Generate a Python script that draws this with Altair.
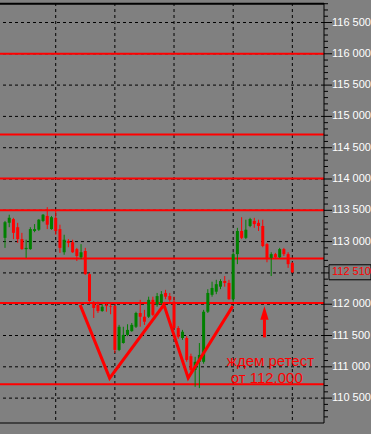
import altair as alt
import pandas as pd

# ---- candle data (bar index, prices) ----
idx = list(range(69))
opens = [113.06, 113.30, 113.36, 113.23, 113.04, 112.88, 112.88, 113.17, 113.19, 113.33,
         113.41, 113.20, 113.38, 113.20, 112.83, 113.01, 112.99, 112.88, 112.75, 112.85,
         112.48, 112.02, 111.99, 111.89, 111.99, 111.97, 111.97, 111.27, 111.38, 111.51,
         111.57, 111.64, 111.86, 111.80, 111.80, 112.07, 111.99, 112.02, 112.18, 112.13,
         112.04, 111.62, 111.46, 111.46, 111.17, 110.95, 111.08, 111.08, 111.88, 112.15,
         112.20, 112.28, 112.37, 112.34, 112.08, 112.80, 113.17, 113.06, 113.25, 113.33,
         113.30, 113.25, 112.96, 112.74, 112.80, 112.75, 112.88, 112.80, 112.66]
highs = [113.33, 113.43, 113.38, 113.30, 113.14, 113.03, 113.23, 113.28, 113.36, 113.44,
         113.55, 113.41, 113.49, 113.27, 113.11, 113.04, 113.03, 112.90, 112.96, 112.90,
         112.50, 112.05, 112.04, 112.00, 112.02, 112.02, 111.99, 111.67, 111.64, 111.68,
         111.70, 111.88, 112.07, 111.91, 112.12, 112.12, 112.18, 112.21, 112.23, 112.18,
         112.12, 111.65, 111.59, 111.49, 111.21, 111.16, 111.38, 111.91, 112.24, 112.36,
         112.39, 112.40, 112.45, 112.39, 112.83, 113.22, 113.39, 113.35, 113.38, 113.38,
         113.35, 113.35, 112.98, 112.83, 112.82, 112.90, 112.90, 112.83, 112.67]
lows = [112.90, 113.23, 113.04, 112.98, 112.87, 112.74, 112.87, 113.15, 113.17, 113.31,
        113.20, 113.19, 113.11, 112.82, 112.79, 112.91, 112.82, 112.69, 112.72, 112.47,
        112.04, 111.78, 111.86, 111.88, 111.88, 111.84, 111.22, 111.25, 111.37, 111.49,
        111.56, 111.62, 111.64, 111.67, 111.78, 111.81, 111.96, 111.99, 112.08, 112.04,
        111.59, 111.45, 111.43, 111.08, 110.87, 110.68, 110.66, 111.05, 111.86, 112.12,
        112.16, 112.24, 112.28, 112.07, 112.04, 112.64, 113.04, 113.04, 113.23, 113.22,
        113.17, 112.91, 112.67, 112.45, 112.74, 112.74, 112.77, 112.58, 112.50]
closes = [113.31, 113.38, 113.14, 113.04, 112.88, 112.90, 113.20, 113.20, 113.35, 113.43,
          113.27, 113.39, 113.17, 112.90, 113.03, 112.98, 112.83, 112.77, 112.83, 112.48,
          112.05, 111.94, 111.89, 111.96, 111.97, 111.96, 111.27, 111.64, 111.51, 111.59,
          111.67, 111.86, 111.80, 111.72, 112.07, 111.83, 112.13, 112.16, 112.12, 112.07,
          111.62, 111.48, 111.56, 111.11, 110.95, 111.08, 111.19, 111.88, 112.18, 112.26,
          112.32, 112.37, 112.34, 112.08, 112.80, 113.17, 113.06, 113.19, 113.36, 113.28,
          113.25, 112.93, 112.72, 112.80, 112.75, 112.88, 112.80, 112.64, 112.51]

# ---- chart furniture ----
label_prices = [110.5, 111.0, 111.5, 112.0, 112.5, 113.0, 113.5, 114.0, 114.5, 115.0, 115.5, 116.0, 116.5]
minor_prices = [round(110.0 + k / 10, 1) for k in range(2, 69) if k % 5 != 0]
vgrid_idx = [12, 26, 40, 54, 68]
level_prices = [116.0, 114.71, 114.01, 113.5, 112.73, 112.02, 110.72]

# head & shoulders drawing
pattern_idx = [17.78, 24.77, 37.61, 43.35, 53.9]
pattern_price = [111.99, 110.82, 111.99, 110.82, 111.97]
arrow_idx = [61.4]
arrow_from = [111.47]
arrow_to = [111.76]
arrow_head = [111.86]
note_text = ["ждем ретест", "от 112.000"]
note_idx = [52.5, 53.4]
note_price = [111.09, 110.82]

X_MAX = 74.31
Y_MIN, Y_MAX = 110.1025, 116.8115
RED = "#ff0000"
GREEN = "#008000"

xs = alt.Scale(domain=[0, X_MAX], nice=False, zero=False)
ys = alt.Scale(domain=[Y_MIN, Y_MAX], nice=False, zero=False)
X = lambda f: alt.X(f, scale=xs, axis=None)
Y = lambda f: alt.Y(f, scale=ys, axis=None)

candles = pd.DataFrame({"i": idx, "o": opens, "h": highs, "l": lows, "c": closes})
candles["dir"] = ["up" if c >= o else "down" for o, c in zip(opens, closes)]
col = alt.Color("dir:N", scale=alt.Scale(domain=["up", "down"], range=[GREEN, RED]), legend=None)

labels_df = pd.DataFrame({"p": label_prices})
labels_df["t"] = [f"{p:.3f}".replace(".", " ") for p in label_prices]

hgrid = alt.Chart(labels_df).mark_rule(
    color="black", strokeWidth=1, strokeDash=[3, 3]
).encode(y=Y("p:Q"))

vgrid = alt.Chart(pd.DataFrame({"i": vgrid_idx})).mark_rule(
    color="black", strokeWidth=1, strokeDash=[3, 3]
).encode(x=X("i:Q"))

levels = alt.Chart(pd.DataFrame({"p": level_prices})).mark_rule(
    color=RED, strokeWidth=2
).encode(y=Y("p:Q"))

wicks = alt.Chart(candles).mark_rule(strokeWidth=1).encode(
    x=X("i:Q"), y=Y("l:Q"), y2="h:Q", color=col)

bodies = alt.Chart(candles).mark_bar(size=3).encode(
    x=X("i:Q"), y=Y("o:Q"), y2="c:Q", color=col)

pattern = alt.Chart(pd.DataFrame({"i": pattern_idx, "p": pattern_price, "k": range(len(pattern_idx))})).mark_line(
    color=RED, strokeWidth=3
).encode(x=X("i:Q"), y=Y("p:Q"), order="k:Q")

shaft = alt.Chart(pd.DataFrame({"i": arrow_idx, "a": arrow_from, "b": arrow_to})).mark_rule(
    color=RED, strokeWidth=3
).encode(x=X("i:Q"), y=Y("a:Q"), y2="b:Q")

head = alt.Chart(pd.DataFrame({"i": arrow_idx, "p": arrow_head})).mark_point(
    shape="M0,-1L0.63,1L-0.63,1Z", size=177, filled=True, color=RED, opacity=1
).encode(x=X("i:Q"), y=Y("p:Q"))

notes = alt.Chart(pd.DataFrame({"i": note_idx, "p": note_price, "t": note_text})).mark_text(
    color=RED, font="Liberation Sans", fontSize=15, align="left", baseline="middle"
).encode(x=X("i:Q"), y=Y("p:Q"), text="t:N")

# ---- right price axis, drawn by hand ----
axis_line = alt.Chart(pd.DataFrame({"k": [0]})).mark_rule(color="black", strokeWidth=1).encode(
    x=alt.value(324), y=alt.value(0), y2=alt.value(420))
major = alt.Chart(labels_df).mark_rule(color="black", strokeWidth=1).encode(
    y=Y("p:Q"), x=alt.value(324), x2=alt.value(332))
minor = alt.Chart(pd.DataFrame({"p": minor_prices})).mark_rule(color="black", strokeWidth=1).encode(
    y=Y("p:Q"), x=alt.value(324), x2=alt.value(328))
axis_labels = alt.Chart(labels_df).mark_text(
    color="white", font="Liberation Sans", fontSize=11, align="left", baseline="middle"
).encode(y=Y("p:Q"), x=alt.value(332), text="t:N")

top_border = alt.Chart(pd.DataFrame({"k": [0]})).mark_rule(color="black", strokeWidth=2).encode(
    x=alt.value(0), x2=alt.value(324), y=alt.value(0.7))
bottom_border = alt.Chart(pd.DataFrame({"k": [0]})).mark_rule(color="black", strokeWidth=1).encode(
    x=alt.value(0), x2=alt.value(324), y=alt.value(420))

last = pd.DataFrame({"c": [closes[-1]], "t": [f"{closes[-1]:.3f}".replace(".", " ")]})
box = alt.Chart(last).mark_point(
    shape="M-1,-0.357L1,-0.357L1,0.357L-1,0.357Z", size=42 * 42, filled=False,
    stroke="black", strokeWidth=1, fill="#808080", fillOpacity=1, opacity=1
).encode(x=alt.value(350), y=Y("c:Q"))
box_text = alt.Chart(last).mark_text(
    color=RED, font="Liberation Sans", fontSize=11, align="left", baseline="middle"
).encode(x=alt.value(332), y=Y("c:Q"), text="t:N")

chart = alt.layer(
    hgrid, vgrid, levels, wicks, bodies, pattern, shaft, head, notes,
    axis_line, major, minor, axis_labels, top_border, bottom_border, box, box_text
).properties(
    width=324, height=420,
    padding={"left": 0, "top": 3, "right": 47, "bottom": 11},
    autosize=alt.AutoSizeParams(type="none"),
    background="#808080",
).configure_view(stroke=None, fill="#808080")

chart.save("out.html", embed_options={"renderer": "svg", "actions": False})
